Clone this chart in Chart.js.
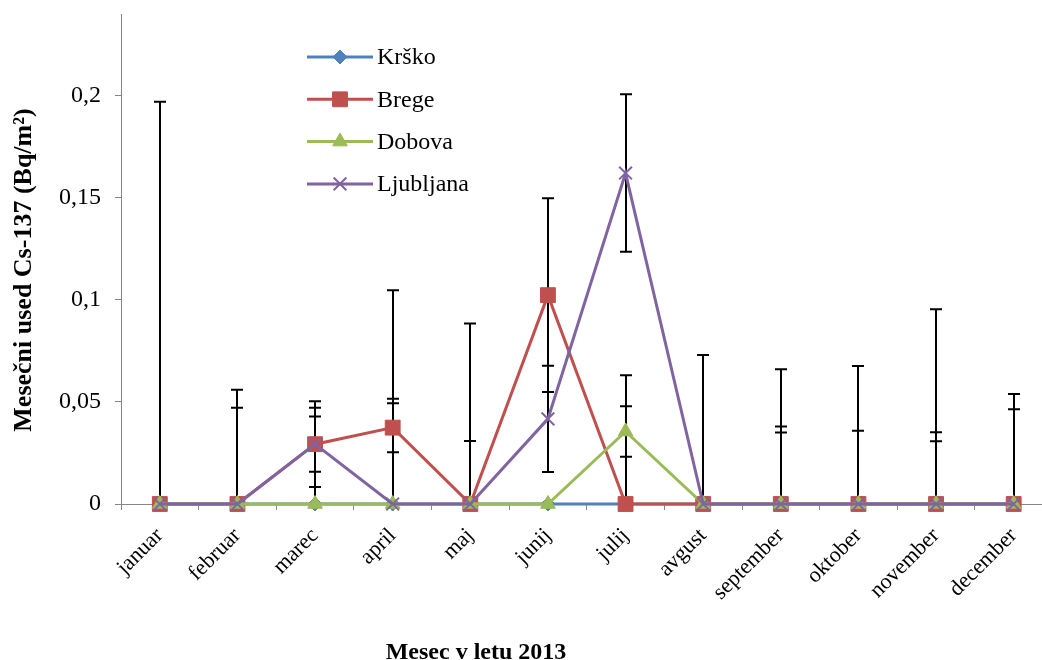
<!DOCTYPE html>
<html><head><meta charset="utf-8">
<script src="https://cdn.jsdelivr.net/npm/chart.js@4/dist/chart.umd.min.js"></script>
<style>
html,body{margin:0;padding:0;overflow:hidden;background:#fff;width:1042px;height:660px}
#wrap{position:absolute;left:0;top:0;width:1064px;height:660px}
</style>
</head><body><div id="wrap"><canvas id="c"></canvas></div>
<script>
const months = ['januar','februar','marec','april','maj','junij','julij','avgust','september','oktober','november','december'];
const seriesNames = ['Krško','Brege','Dobova','Ljubljana'];
const krsko     = [0,0,0,0,0,0,0,0,0,0,0,0];
const brege     = [0,0,0.0293,0.0374,0,0.1023,0,0,0,0,0,0];
const dobova    = [0,0,0,0,0,0,0.0355,0,0,0,0,0];
const ljubljana = [0,0,0.0293,0,0,0.0417,0.1621,0,0,0,0,0];
const krskoErr     = [null,0.0472,0.0472,0.0515,0.0309,null,null,null,0.0379,0.0359,0.0351,0.0464];
const bregeErr     = [0.197,0.0559,0.021,0.012,0.0884,0.0475,0.0631,0.073,0.066,0.0676,0.0954,0.0539];
const dobovaErr    = [null,null,null,null,null,null,0.0124,null,null,null,null,null];
const ljubljanaErr = [null,null,0.0135,0.1047,null,0.026,0.0386,null,0.035,null,0.0307,null];
const yTicks = [0,0.05,0.1,0.15,0.2];
const yTickLabels = ['0','0,05','0,1','0,15','0,2'];
const yTitle = 'Mesečni used Cs-137 (Bq/m²)';
const xTitle = 'Mesec v letu 2013';

const SERIF = '"Liberation Serif","Times New Roman",serif';
const colors = ['#4F81BD','#C0504D','#9BBB59','#8064A2'];
const styles = [
  {pointStyle:'rectRot', radius:7, bw:1},
  {pointStyle:'rect', radius:10.5, bw:1},
  {pointStyle:'triangle', radius:8.5, bw:1},
  {pointStyle:'crossRot', radius:9, bw:2}
];
const values = [krsko, brege, dobova, ljubljana];
const errs = [krskoErr, bregeErr, dobovaErr, ljubljanaErr];
const orders = [4,3,2,1];

const datasets = seriesNames.map((n,i)=>({
  label:n, data:values[i], err:errs[i], order:orders[i],
  borderColor:colors[i], backgroundColor:colors[i],
  pointBackgroundColor:colors[i], pointBorderColor:colors[i],
  pointStyle:styles[i].pointStyle, pointRadius:styles[i].radius,
  pointBorderWidth:styles[i].bw, borderWidth:3, tension:0, clip:false
}));

const errPlugin = {
  id:'errbars',
  beforeDatasetsDraw(chart){
    const {ctx, chartArea:a, scales:{x,y}} = chart;
    ctx.save();
    ctx.beginPath(); ctx.rect(a.left, 0, a.right-a.left, a.bottom); ctx.clip();
    ctx.strokeStyle='#000'; ctx.lineWidth=2;
    chart.data.datasets.forEach(ds=>{
      ds.err.forEach((e,i)=>{
        if(e==null) return;
        const v = ds.data[i];
        const px = Math.round(x.getPixelForValue(i));
        const t = y.getPixelForValue(v+e), b = y.getPixelForValue(v-e);
        ctx.beginPath();
        ctx.moveTo(px,t); ctx.lineTo(px,b);
        ctx.moveTo(px-6,t); ctx.lineTo(px+6,t);
        ctx.moveTo(px-6,b); ctx.lineTo(px+6,b);
        ctx.stroke();
      });
    });
    ctx.restore();
  }
};

const decoPlugin = {
  id:'deco',
  afterDraw(chart){
    const ctx = chart.ctx;
    ctx.save();
    chart.data.datasets.forEach((ds,i)=>{
      const yy = 57 + i*42.3;
      ctx.strokeStyle = ds.borderColor; ctx.lineWidth = 3;
      ctx.beginPath(); ctx.moveTo(307,yy); ctx.lineTo(373,yy); ctx.stroke();
      ctx.fillStyle = ds.borderColor; ctx.strokeStyle = ds.borderColor;
      ctx.lineWidth = ds.pointBorderWidth;
      Chart.helpers.drawPoint(ctx,{pointStyle:ds.pointStyle, radius:ds.pointRadius, borderWidth:ds.pointBorderWidth, rotation:0}, 340, yy);
      ctx.fillStyle = '#000';
      ctx.font = '24px '+SERIF;
      ctx.textAlign='left'; ctx.textBaseline='middle';
      ctx.fillText(ds.label, 377, yy+1);
    });
    ctx.fillStyle='#000';
    ctx.font = 'bold 24px '+SERIF;
    ctx.textAlign='center'; ctx.textBaseline='alphabetic';
    ctx.fillText(xTitle, 476, 659);
    ctx.font = 'bold 26px '+SERIF;
    ctx.translate(31, 270); ctx.rotate(-Math.PI/2);
    ctx.fillText(yTitle, 0, 0);
    ctx.restore();
  }
};

new Chart(document.getElementById('c'), {
  type:'line',
  data:{labels:months, datasets},
  options:{
    responsive:true, maintainAspectRatio:false, animation:false, devicePixelRatio:1,
    layout:{padding:{top:14,right:3,left:0,bottom:0}},
    plugins:{legend:{display:false}, tooltip:{enabled:false}},
    scales:{
      x:{
        type:'category', offset:true,
        grid:{display:true, drawOnChartArea:false, drawTicks:true, tickLength:6, offset:true, color:'#868686'},
        border:{display:true, color:'#868686', width:1},
        ticks:{color:'#000', font:{family:SERIF, size:22}, minRotation:45, maxRotation:45, padding:13, autoSkip:false},
        afterFit(s){ s.height = 156; s.paddingLeft = 0; s.paddingRight = 0; }
      },
      y:{
        min:0, max:0.24,
        afterBuildTicks(s){ s.ticks = yTicks.map(v=>({value:v})); },
        grid:{display:true, drawOnChartArea:false, drawTicks:true, tickLength:6, color:'#868686'},
        border:{display:true, color:'#868686', width:1},
        ticks:{color:'#000', font:{family:SERIF, size:24}, padding:14,
          callback:(v,i)=>yTickLabels[yTicks.indexOf(v)] ?? ''},
        afterFit(s){ s.width = 121; s.paddingTop = 0; s.paddingBottom = 0; }
      }
    }
  },
  plugins:[errPlugin, decoPlugin]
});
</script>
</body></html>
